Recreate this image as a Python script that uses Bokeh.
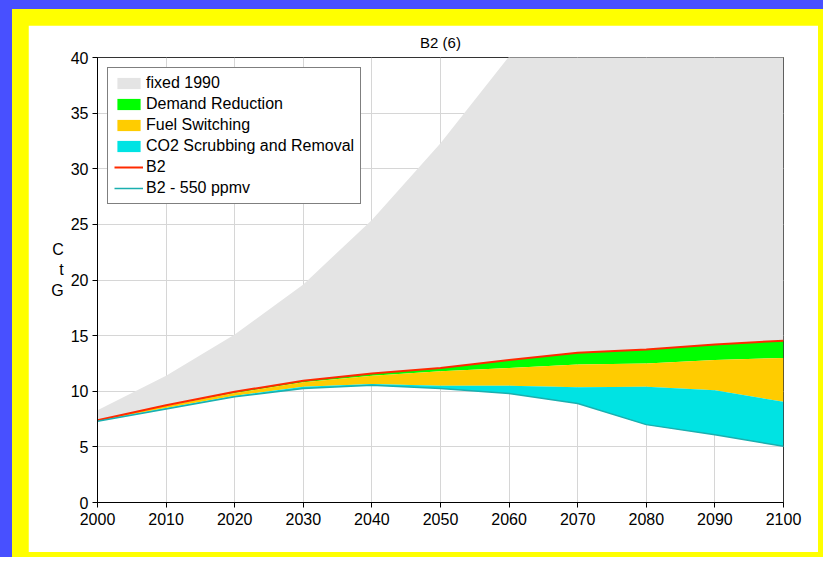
from bokeh.plotting import figure
from bokeh.layouts import column
from bokeh.models import Range1d, FixedTicker, Legend, LegendItem
from bokeh.embed import file_html
from bokeh.resources import INLINE

# ---- data (GtC) ----
years = [2000, 2010, 2020, 2030, 2040, 2050, 2060, 2070, 2080, 2090, 2100]
fixed_1990 = [8.3, 11.4, 15.1, 19.6, 25.4, 32.3, 40.1, 48.5, 57.0, 65.5, 74.0]
b2 = [7.4, 8.75, 9.95, 10.95, 11.6, 12.1, 12.8, 13.45, 13.75, 14.2, 14.55]
after_demand = [7.38, 8.7, 9.85, 10.8, 11.4, 11.8, 12.1, 12.4, 12.5, 12.8, 13.0]
after_fuel = [7.35, 8.5, 9.6, 10.4, 10.65, 10.5, 10.5, 10.35, 10.4, 10.1, 9.05]
b2_550 = [7.3, 8.4, 9.5, 10.25, 10.55, 10.25, 9.8, 8.9, 7.0, 6.1, 5.05]

x_ticks = list(range(2000, 2101, 10))
y_ticks = list(range(0, 41, 5))
title_text = "B2 (6)"
ylabel_text = "C\nt\nG\n"

FONT = "Liberation Sans"
BLUE = "#4850FF"
YELLOW = "#FFFF00"

p = figure(width=790, height=527, output_backend="svg", toolbar_location=None,
           x_range=Range1d(2000, 2100), y_range=Range1d(0, 40),
           min_border_left=69, min_border_right=35, min_border_top=31, min_border_bottom=50,
           title=title_text)
p.border_fill_color = "white"
p.background_fill_color = "white"
p.outline_line_color = "#333333"
p.outline_line_width = 1

p.title.align = "center"
p.title.text_font = FONT
p.title.text_font_size = "15px"
p.title.text_font_style = "normal"
p.title.text_color = "black"
p.title.standoff = 13

r_gray = p.varea(x=years, y1=b2, y2=fixed_1990, fill_color="#E4E4E4")
r_green = p.varea(x=years, y1=after_demand, y2=b2, fill_color="#00FF00")
r_yellow = p.varea(x=years, y1=after_fuel, y2=after_demand, fill_color="#FFCC00")
r_cyan = p.varea(x=years, y1=b2_550, y2=after_fuel, fill_color="#00E3E3")
r_b2 = p.line(x=years, y=b2, line_color="#FF2A00", line_width=2)
r_550 = p.line(x=years, y=b2_550, line_color="#1AAFAF", line_width=1.5)

# axes
for ax in (p.xaxis[0], p.yaxis[0]):
    ax.axis_line_color = "black"
    ax.axis_line_width = 1
    ax.major_tick_line_color = "black"
    ax.major_tick_out = 5
    ax.major_tick_in = 0
    ax.minor_tick_line_color = None
    ax.major_label_text_font = FONT
    ax.major_label_text_font_size = "16px"
    ax.major_label_text_color = "black"
p.xaxis[0].ticker = FixedTicker(ticks=x_ticks)
p.yaxis[0].ticker = FixedTicker(ticks=y_ticks)
p.xaxis[0].major_label_standoff = 5
p.yaxis[0].major_label_standoff = 4

p.yaxis[0].axis_label = ylabel_text
p.yaxis[0].axis_label_orientation = "horizontal"
p.yaxis[0].axis_label_text_font = FONT
p.yaxis[0].axis_label_text_font_size = "16px"
p.yaxis[0].axis_label_text_font_style = "normal"
p.yaxis[0].axis_label_text_color = "black"
p.yaxis[0].axis_label_standoff = 4

p.xgrid[0].ticker = FixedTicker(ticks=x_ticks)
p.ygrid[0].ticker = FixedTicker(ticks=y_ticks)
for g in (p.xgrid[0], p.ygrid[0]):
    g.grid_line_color = "#D6D6D6"
    g.grid_line_width = 1

legend = Legend(items=[
    LegendItem(label="fixed 1990", renderers=[r_gray]),
    LegendItem(label="Demand Reduction", renderers=[r_green]),
    LegendItem(label="Fuel Switching", renderers=[r_yellow]),
    LegendItem(label="CO2 Scrubbing and Removal", renderers=[r_cyan]),
    LegendItem(label="B2", renderers=[r_b2]),
    LegendItem(label="B2 - 550 ppmv", renderers=[r_550]),
], location="top_left")
legend.margin = 10
legend.padding = 6
legend.spacing = 3
legend.glyph_width = 29
legend.glyph_height = 14
legend.label_height = 14
legend.label_standoff = 3
legend.label_text_font = FONT
legend.label_text_font_size = "16px"
legend.label_text_color = "black"
legend.border_line_color = "black"
legend.border_line_width = 1
legend.background_fill_color = "white"
legend.background_fill_alpha = 1
p.add_layout(legend, "center")

# yellow frame around the white panel, blue page around it
frame_box = column(p, styles={"background-color": YELLOW, "padding-left": "16px",
                              "padding-top": "16px", "padding-right": "5px",
                              "padding-bottom": "5px"})
page = column(frame_box, styles={"background-color": BLUE, "padding-left": "12px",
                                 "padding-top": "9px"})

open("out.html", "w").write(file_html(page, INLINE))
